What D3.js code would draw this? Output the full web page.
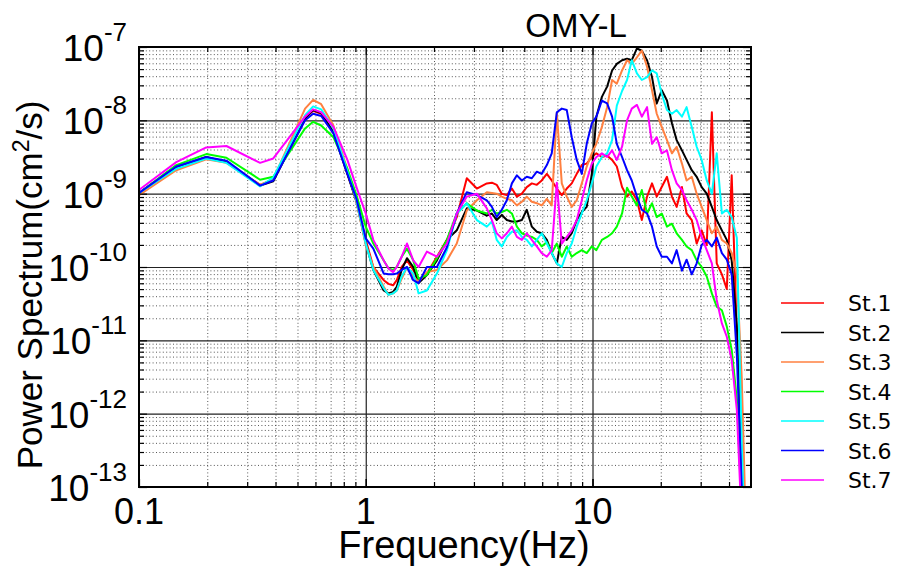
<!DOCTYPE html>
<html>
<head>
<meta charset="utf-8">
<script src="https://cdnjs.cloudflare.com/ajax/libs/d3/7.8.5/d3.min.js"></script>
<style>
  body { margin: 0; background: #fff; }
  svg text { font-family: "Liberation Sans", Arial, sans-serif; fill: #000; }
  .legend text { font-family: "DejaVu Sans", Verdana, sans-serif; }
</style>
</head>
<body>
<div id="chart"></div>
<script>

var freqs = [0.1, 0.146, 0.198, 0.243, 0.342, 0.391, 0.54, 0.586, 0.636, 0.72, 0.83, 0.91,
    1.0, 1.08, 1.2, 1.26, 1.32, 1.37, 1.44, 1.52, 1.62, 1.71, 1.86, 2.06, 2.28, 2.52, 2.79, 3.09,
    3.42, 3.6, 3.78, 3.98, 4.19, 4.41, 4.64, 4.88, 5.13, 5.4, 5.68, 5.97, 6.29, 6.61, 6.96, 7.32,
    7.7, 8.1, 8.52, 8.97, 9.43, 9.93, 10.4, 11, 11.6, 12.2, 12.8, 13.5, 14.2, 14.9, 15.7, 16.5,
    17.4, 18.3, 19.2, 20.2, 21.3, 22.4, 23.5, 24.8, 26, 27.4, 28.8, 30.3, 31.9, 33.6, 35.3, 37.2,
    39.1, 41.1, 43.3, 45.5, 47.9];

// log10 of power spectrum (cm^2/s), one array per station
var st1 = [-8.99, -8.64, -8.51, -8.57, -8.88, -8.81, -7.96, -7.87, -7.91, -8.16, -8.73, -9.09,
    -9.63, -10.0, -10.18, -10.23, -10.25, -10.18, -10.0, -9.91, -10.04, -10.2, -10.09, -9.86, -9.63, -9.32, -8.79, -8.93,
    -8.86, -8.85, -8.88, -9.0, -9.02, -8.93, -9.04, -9.0, -8.91, -8.86, -8.88, -8.82, -8.73, -8.82, -8.93, -9.02,
    -8.93, -8.86, -8.73, -8.61, -8.59, -8.5, -8.45, -8.5, -8.48, -8.54, -8.63, -8.91, -9.04, -8.97, -9.09, -9.36,
    -9.04, -8.86, -9.04, -8.91, -8.77, -9.04, -9.18, -8.91, -9.27, -9.36, -9.68, -9.5, -9.7, -7.89, -9.95, -10.1,
    -10.3, -8.75, -10.9, -12.5, -14.5];
var st2 = [-8.99, -8.64, -8.5, -8.57, -8.89, -8.83, -7.98, -7.86, -7.9, -8.16, -8.73, -9.11,
    -9.68, -10.04, -10.32, -10.36, -10.34, -10.27, -10.04, -9.88, -10.0, -10.22, -10.11, -9.91, -9.63, -9.5, -9.2, -9.23,
    -9.3, -9.27, -9.36, -9.29, -9.36, -9.38, -9.38, -9.36, -9.22, -9.45, -9.52, -9.54, -9.63, -9.81, -9.95, -9.59,
    -9.63, -9.54, -9.36, -9.25, -9.18, -8.73, -7.95, -7.68, -7.54, -7.32, -7.23, -7.18, -7.16, -7.18, -7.02, -7.05,
    -7.18, -7.41, -7.77, -7.59, -7.73, -8.04, -8.27, -8.41, -8.54, -8.68, -8.77, -8.91, -9.0, -9.18, -9.36, -9.5,
    -9.63, -9.91, -10.8, -12.8, -15];
var st3 = [-9.02, -8.68, -8.53, -8.58, -8.88, -8.8, -7.84, -7.72, -7.78, -8.07, -8.67, -9.11,
    -9.7, -10.0, -10.27, -10.38, -10.36, -10.32, -10.16, -10.0, -10.13, -10.2, -10.07, -10.04, -9.91, -9.68, -9.23, -9.09,
    -8.98, -8.99, -9.0, -9.04, -9.07, -9.09, -9.16, -9.11, -9.04, -9.11, -9.13, -9.16, -9.07, -9.16, -7.9, -8.86,
    -9.04, -9.18, -9.09, -8.86, -8.63, -8.45, -8.32, -8.09, -7.82, -7.45, -7.5, -7.32, -7.18, -7.23, -7.14, -7.05,
    -7.27, -7.59, -7.91, -8.09, -8.27, -8.45, -8.36, -8.59, -8.82, -8.77, -9.0, -9.18, -9.36, -9.54, -9.45, -9.63,
    -9.68, -9.81, -10.09, -11.5, -14];
var st4 = [-8.99, -8.61, -8.46, -8.51, -8.81, -8.77, -8.11, -8.02, -8.07, -8.23, -8.66, -9.02,
    -9.45, -9.68, -9.91, -10.02, -10.04, -10.0, -9.86, -9.75, -9.91, -10.16, -10.11, -9.88, -9.63, -9.27, -9.13, -9.23,
    -9.27, -9.22, -9.27, -9.25, -9.22, -9.27, -9.45, -9.54, -9.57, -9.59, -9.63, -9.72, -9.66, -9.81, -9.68, -9.86,
    -9.72, -9.86, -9.81, -9.77, -9.81, -9.72, -9.77, -9.63, -9.59, -9.54, -9.45, -9.27, -8.92, -9.04, -9.16, -8.95,
    -9.27, -9.13, -9.32, -9.27, -9.45, -9.41, -9.54, -9.63, -9.72, -9.77, -9.91, -10.0, -10.13, -10.36, -10.54, -10.59,
    -10.81, -11.13, -11.8, -13.3, -15];
var st5 = [-8.99, -8.66, -8.52, -8.58, -8.9, -8.78, -7.93, -7.81, -7.85, -8.11, -8.7, -9.09,
    -9.68, -10.04, -10.29, -10.38, -10.36, -10.32, -10.13, -10.0, -10.09, -10.36, -10.32, -10.09, -9.77, -9.27, -9.13, -9.36,
    -9.45, -9.38, -9.63, -9.72, -9.59, -9.52, -9.5, -9.59, -9.63, -9.72, -9.63, -9.54, -9.68, -9.81, -9.95, -10.0,
    -9.81, -9.68, -9.45, -9.27, -9.09, -8.86, -8.63, -8.5, -8.45, -8.27, -7.8, -7.6, -7.45, -7.18, -7.36, -7.45,
    -7.41, -7.32, -7.36, -7.64, -7.86, -7.91, -7.86, -7.95, -7.82, -8.09, -8.36, -8.54, -8.82, -9.0, -8.45, -9.27,
    -9.22, -9.32, -9.6, -12.4, -14.5];
var st6 = [-8.99, -8.63, -8.5, -8.55, -8.89, -8.82, -8.0, -7.91, -7.94, -8.18, -8.73, -9.07,
    -9.61, -9.75, -10.09, -10.1, -10.1, -10.09, -10.04, -10.0, -10.18, -10.22, -10.0, -10.0, -9.73, -9.27, -8.98, -9.02,
    -9.09, -9.18, -9.32, -9.22, -9.09, -8.86, -8.75, -8.82, -8.77, -8.79, -8.7, -8.73, -8.61, -8.45, -7.89, -7.84,
    -7.86, -8.23, -8.54, -8.73, -8.32, -8.04, -7.95, -7.73, -7.77, -7.95, -8.32, -8.5, -8.68, -8.82, -9.04, -9.22,
    -9.27, -9.45, -9.72, -9.86, -9.86, -9.95, -9.77, -10.05, -9.9, -10.1, -9.95, -9.7, -9.63, -9.72, -9.6, -9.81,
    -9.9, -10.1, -11.2, -13.0, -15];
var st7 = [-8.95, -8.57, -8.37, -8.35, -8.58, -8.52, -7.95, -7.85, -7.89, -8.09, -8.54, -8.91,
    -9.27, -9.63, -9.91, -10.02, -10.07, -10.0, -9.86, -9.68, -9.91, -10.0, -9.79, -9.86, -9.68, -9.27, -9.04, -9.0,
    -9.2, -9.36, -9.54, -9.61, -9.54, -9.45, -9.59, -9.63, -9.54, -9.63, -9.72, -9.81, -9.86, -9.77, -8.85, -9.68,
    -9.59, -9.5, -9.36, -9.09, -8.82, -8.59, -8.5, -8.45, -8.5, -8.41, -8.54, -8.36, -8.0, -7.84, -7.79, -7.95,
    -7.82, -8.32, -8.23, -8.45, -8.41, -8.68, -8.86, -8.95, -9.09, -9.22, -9.36, -9.59, -9.77, -9.95, -10.45, -10.77,
    -10.95, -11.27, -11.95, -13.5, -15];

var stationNames = ["St.1", "St.2", "St.3", "St.4", "St.5", "St.6", "St.7"];
var stationColors = ["#ff0000", "#000000", "#ff8040", "#00ff00", "#00ffff", "#0000ff", "#ff00ff"];
var stationValues = [st1, st2, st3, st4, st5, st6, st7];

// Axis ticks
var yDecades = [-13, -12, -11, -10, -9, -8, -7];
var xTickValues = [0.1, 1, 10];
var xTickLabels = ["0.1", "1", "10"];
var xMinorValues = [0.2, 0.3, 0.4, 0.5, 0.6, 0.7, 0.8, 0.9, 2, 3, 4, 5, 6, 7, 8, 9, 20, 30, 40];
var yMinorMult = [2, 3, 4, 5, 6, 7, 8, 9];

// Set up chart
var svgWidth = 899;
var svgHeight = 569;
var margin = {top: 47, right: 148, bottom: 82, left: 139};
var width = svgWidth - margin.left - margin.right;
var height = svgHeight - margin.top - margin.bottom;

var svg = d3.select("#chart")
    .append("svg")
    .attr("width", svgWidth)
    .attr("height", svgHeight);

var chartGroup = svg.append("g")
    .attr("transform", `translate(${margin.left}, ${margin.top})`);

// Scales
var xScale = d3.scaleLog()
    .domain([0.1, 50])
    .range([0, width]);

var yScale = d3.scaleLog()
    .domain([1e-13, 1e-7])
    .range([height, 0]);

var yMajor = yDecades.map(e => Math.pow(10, e));
var yMinor = [];
yDecades.slice(0, -1).forEach(function(e) {
    yMinorMult.forEach(m => yMinor.push(m * Math.pow(10, e)));
});

// Minor dotted grid
chartGroup.append("g")
    .attr("class", "grid-minor")
    .attr("transform", `translate(0, ${height})`)
    .call(d3.axisBottom(xScale).tickValues(xMinorValues).tickSize(-height).tickFormat(""));

chartGroup.append("g")
    .attr("class", "grid-minor")
    .call(d3.axisLeft(yScale).tickValues(yMinor).tickSize(-width).tickFormat(""));

chartGroup.selectAll(".grid-minor line")
    .attr("stroke", "#444")
    .attr("stroke-width", 0.9)
    .attr("stroke-dasharray", "1,2.4");

// Major solid grid
chartGroup.append("g")
    .attr("class", "grid-major")
    .attr("transform", `translate(0, ${height})`)
    .call(d3.axisBottom(xScale).tickValues([1, 10]).tickSize(-height).tickFormat(""));

chartGroup.append("g")
    .attr("class", "grid-major")
    .call(d3.axisLeft(yScale).tickValues(yMajor.slice(1, -1)).tickSize(-width).tickFormat(""));

chartGroup.selectAll(".grid-major line")
    .attr("stroke", "#222")
    .attr("stroke-width", 1.2);

chartGroup.selectAll(".grid-minor .domain, .grid-major .domain").remove();

// Spectra, clipped to the plot box
svg.append("clipPath")
    .attr("id", "plot-clip")
    .append("rect")
    .attr("width", width)
    .attr("height", height);

var line = d3.line()
    .x(d => xScale(d.f))
    .y(d => yScale(d.v));

var seriesData = stationValues.map(function(vals, i) {
    return {
        name: stationNames[i],
        color: stationColors[i],
        points: freqs.map((f, j) => ({f: f, v: Math.pow(10, vals[j])}))
    };
});

chartGroup.append("g")
    .attr("clip-path", "url(#plot-clip)")
    .selectAll("path")
    .data(seriesData)
    .enter()
    .append("path")
    .attr("d", d => line(d.points))
    .attr("fill", "none")
    .attr("stroke", d => d.color)
    .attr("stroke-width", 2)
    .attr("stroke-linejoin", "round");

// Inward ticks on all four sides
function tickAxis(axis, transform, cls) {
    var g = chartGroup.append("g")
        .attr("class", "ticks " + cls)
        .attr("transform", transform)
        .call(axis);
    g.select(".domain").remove();
    g.selectAll("line").attr("stroke", "#000").attr("stroke-width", 1.2);
}

tickAxis(d3.axisBottom(xScale).tickValues(xTickValues.concat([1, 10])).tickSize(-8).tickFormat(""), `translate(0, ${height})`, "xb");
tickAxis(d3.axisBottom(xScale).tickValues(xMinorValues).tickSize(-5).tickFormat(""), `translate(0, ${height})`, "xb");
tickAxis(d3.axisTop(xScale).tickValues(xTickValues).tickSize(-8).tickFormat(""), "translate(0, 0)", "xt");
tickAxis(d3.axisTop(xScale).tickValues(xMinorValues).tickSize(-5).tickFormat(""), "translate(0, 0)", "xt");
tickAxis(d3.axisLeft(yScale).tickValues(yMajor).tickSize(-8).tickFormat(""), "translate(0, 0)", "yl");
tickAxis(d3.axisLeft(yScale).tickValues(yMinor).tickSize(-5).tickFormat(""), "translate(0, 0)", "yl");
tickAxis(d3.axisRight(yScale).tickValues(yMajor).tickSize(-8).tickFormat(""), `translate(${width}, 0)`, "yr");
tickAxis(d3.axisRight(yScale).tickValues(yMinor).tickSize(-5).tickFormat(""), `translate(${width}, 0)`, "yr");

// Frame
chartGroup.append("rect")
    .attr("width", width)
    .attr("height", height)
    .attr("fill", "none")
    .attr("stroke", "#000")
    .attr("stroke-width", 2);

// Y tick labels 10^n
var yLabels = chartGroup.selectAll(".ylab")
    .data(yDecades)
    .enter()
    .append("text")
    .attr("class", "ylab")
    .attr("x", -12)
    .attr("y", d => yScale(Math.pow(10, d)) + 14)
    .attr("text-anchor", "end");
yLabels.append("tspan")
    .style("font-size", "37px")
    .text("10");
yLabels.append("tspan")
    .attr("dy", -20)
    .style("font-size", "26px")
    .text(d => String(d));

// X tick labels
chartGroup.selectAll(".xlab")
    .data(xTickValues)
    .enter()
    .append("text")
    .attr("class", "xlab")
    .attr("x", d => xScale(d))
    .attr("y", height + 37)
    .attr("text-anchor", "middle")
    .style("font-size", "36px")
    .text((d, i) => xTickLabels[i]);

// Axis labels
chartGroup.append("text")
    .attr("x", 325)
    .attr("y", height + 71)
    .attr("text-anchor", "middle")
    .style("font-size", "38px")
    .text("Frequency(Hz)");

var yTitle = svg.append("text")
    .attr("transform", "translate(42, 285) rotate(-90)")
    .attr("text-anchor", "middle")
    .style("font-size", "35px");
yTitle.append("tspan").text("Power Spectrum(cm");
yTitle.append("tspan").attr("dy", -13).style("font-size", "23px").text("2");
yTitle.append("tspan").attr("dy", 13).text("/s)");

// Title
svg.append("text")
    .attr("x", 576)
    .attr("y", 37)
    .attr("text-anchor", "middle")
    .style("font-size", "33px")
    .text("OMY-L");

// Legend
var legend = svg.append("g")
    .attr("class", "legend")
    .attr("transform", "translate(781, 303)");

var legendRows = legend.selectAll("g")
    .data(seriesData)
    .enter()
    .append("g")
    .attr("transform", (d, i) => `translate(0, ${i * 29.5})`);

legendRows.append("line")
    .attr("x1", 0)
    .attr("x2", 43)
    .attr("stroke", d => d.color)
    .attr("stroke-width", 1.7);

legendRows.append("text")
    .attr("x", 67)
    .attr("y", 8)
    .style("font-size", "22px")
    .text(d => d.name);

</script>
</body>
</html>
